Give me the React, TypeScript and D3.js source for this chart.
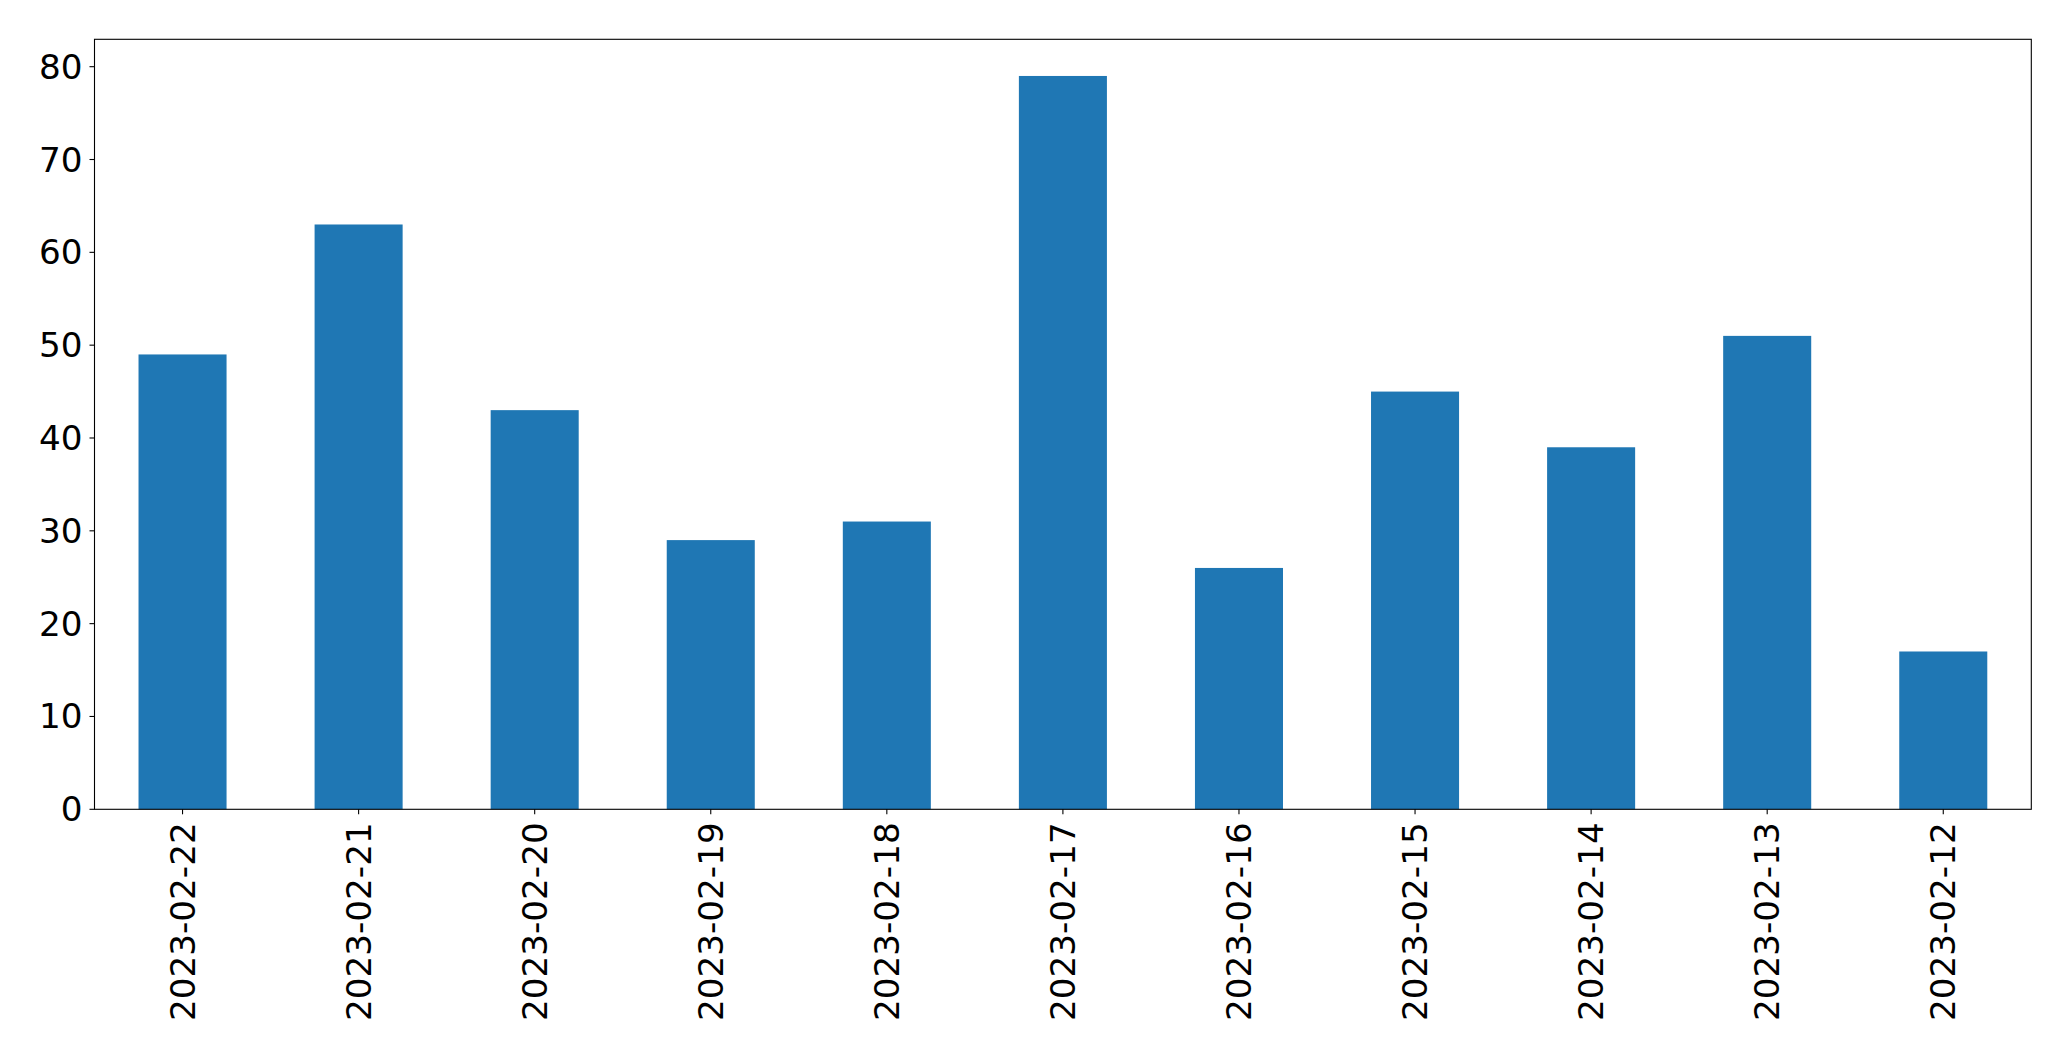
import React from "react";
import * as d3 from "d3";

const categories = [
  "2023-02-22", "2023-02-21", "2023-02-20", "2023-02-19", "2023-02-18", "2023-02-17",
  "2023-02-16", "2023-02-15", "2023-02-14", "2023-02-13", "2023-02-12",
];
const values = [49, 63, 43, 29, 31, 79, 26, 45, 39, 51, 17];
const yTicks = [0, 10, 20, 30, 40, 50, 60, 70, 80];

const W = 2071;
const H = 1061;
const left = 94.5;
const right = 2031.3;
const top = 39.3;
const bottom = 809.3;
const FONT = "'DejaVu Sans', sans-serif";
const FS = 34.2;
const TICK = 5;
const PAD = 5;

export default function App() {
  const x = d3.scaleBand<string>().domain(categories).range([left, right]).paddingInner(0.5).paddingOuter(0.25);
  const y = d3.scaleLinear().domain([0, d3.max(values)! * 1.05]).range([bottom, top]);
  const bw = x.bandwidth();

  return (
    <svg width={W} height={H} style={{ position: "absolute", left: 0, top: 0, background: "#fff" }}>
      <rect x={0} y={0} width={W} height={H} fill="#fff" />
      {categories.map((c, i) => (
        <rect key={c} x={x(c)!} y={y(values[i])} width={bw} height={y(0) - y(values[i])} fill="#1f77b4" />
      ))}
      <rect x={left} y={top} width={right - left} height={bottom - top} fill="none" stroke="#000" strokeWidth={1.1} />
      {yTicks.map((t) => (
        <g key={t}>
          <line x1={left - TICK} x2={left} y1={y(t)} y2={y(t)} stroke="#000" strokeWidth={1.1} />
          <text x={left - TICK - PAD - 2} y={y(t)} textAnchor="end" dominantBaseline="central" fontFamily={FONT} fontSize={FS} fill="#000">
            {t}
          </text>
        </g>
      ))}
      {categories.map((c) => {
        const cx = x(c)! + bw / 2;
        const ty = bottom + TICK + PAD + 3;
        return (
          <g key={c}>
            <line x1={cx} x2={cx} y1={bottom} y2={bottom + TICK} stroke="#000" strokeWidth={1.1} />
            <text
              transform={`translate(${cx},${ty}) rotate(-90)`}
              textAnchor="end"
              dominantBaseline="central"
              fontFamily={FONT}
              fontSize={FS}
              fill="#000"
            >
              {c}
            </text>
          </g>
        );
      })}
    </svg>
  );
}
